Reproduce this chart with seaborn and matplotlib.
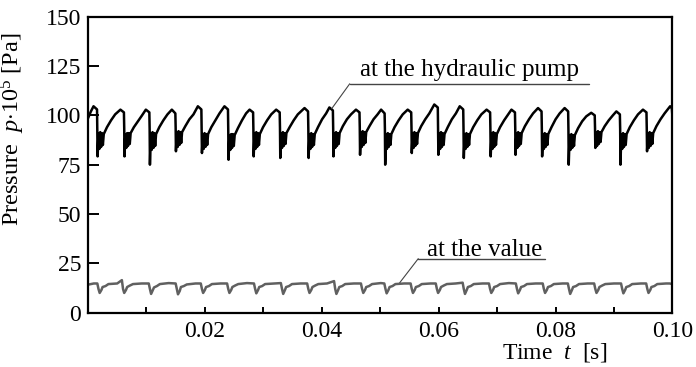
import matplotlib
matplotlib.use("Agg")
import matplotlib.pyplot as plt
import seaborn as sns
import pandas as pd

# ---------------- data ----------------
# pressure at the hydraulic pump: time [ms] and pressure [x1e5 Pa]
pump_t_ms = [
    0.0, 0.5,
    0.95, 1.55, 1.6, 1.65, 1.8, 1.95, 2.1, 2.25, 2.4, 2.55, 2.7, 3.25, 3.95, 4.65,
    5.55, 6.15, 6.2, 6.25, 6.4, 6.55, 6.7, 6.85, 7.0, 7.15, 7.3, 7.85, 8.55, 9.25,
    9.9, 10.5, 10.55, 10.6, 10.75, 10.9, 11.05, 11.2, 11.35, 11.5, 11.65, 12.2, 12.9, 13.6,
    14.35, 14.95, 15.0, 15.05, 15.2, 15.35, 15.5, 15.65, 15.8, 15.95, 16.1, 16.65, 17.35, 18.05,
    18.8, 19.4, 19.45, 19.5, 19.65, 19.8, 19.95, 20.1, 20.25, 20.4, 20.55, 21.1, 21.8, 22.5,
    23.35, 23.95, 24.0, 24.05, 24.2, 24.35, 24.5, 24.65, 24.8, 24.95, 25.1, 25.65, 26.35, 27.05,
    27.65, 28.25, 28.3, 28.35, 28.5, 28.65, 28.8, 28.95, 29.1, 29.25, 29.4, 29.95, 30.65, 31.35,
    32.2, 32.8, 32.85, 32.9, 33.05, 33.2, 33.35, 33.5, 33.65, 33.8, 33.95, 34.5, 35.2, 35.9,
    37.05, 37.65, 37.7, 37.75, 37.9, 38.05, 38.2, 38.35, 38.5, 38.65, 38.8, 39.35, 40.05, 40.75,
    41.3, 41.9, 41.95, 42.0, 42.15, 42.3, 42.45, 42.6, 42.75, 42.9, 43.05, 43.6, 44.3, 45.0,
    45.85, 46.45, 46.5, 46.55, 46.7, 46.85, 47.0, 47.15, 47.3, 47.45, 47.6, 48.15, 48.85, 49.55,
    50.15, 50.75, 50.8, 50.85, 51.0, 51.15, 51.3, 51.45, 51.6, 51.75, 51.9, 52.45, 53.15, 53.85,
    54.7, 55.3, 55.35, 55.4, 55.55, 55.7, 55.85, 56.0, 56.15, 56.3, 56.45, 57.0, 57.7, 58.4,
    59.25, 59.85, 59.9, 59.95, 60.1, 60.25, 60.4, 60.55, 60.7, 60.85, 61.0, 61.55, 62.25, 62.95,
    63.6, 64.2, 64.25, 64.3, 64.45, 64.6, 64.75, 64.9, 65.05, 65.2, 65.35, 65.9, 66.6, 67.3,
    68.2, 68.8, 68.85, 68.9, 69.05, 69.2, 69.35, 69.5, 69.65, 69.8, 69.95, 70.5, 71.2, 71.9,
    72.45, 73.05, 73.1, 73.15, 73.3, 73.45, 73.6, 73.75, 73.9, 74.05, 74.2, 74.75, 75.45, 76.15,
    77.0, 77.6, 77.65, 77.7, 77.85, 78.0, 78.15, 78.3, 78.45, 78.6, 78.75, 79.3, 80.0, 80.7,
    81.55, 82.15, 82.2, 82.25, 82.4, 82.55, 82.7, 82.85, 83.0, 83.15, 83.3, 83.85, 84.55, 85.25,
    86.1, 86.7, 86.75, 86.8, 86.95, 87.1, 87.25, 87.4, 87.55, 87.7, 87.85, 88.4, 89.1, 89.8,
    90.4, 91.0, 91.05, 91.1, 91.25, 91.4, 91.55, 91.7, 91.85, 92.0, 92.15, 92.7, 93.4, 94.1,
    94.95, 95.55, 95.6, 95.65, 95.8, 95.95, 96.1, 96.25, 96.4, 96.55, 96.7, 97.25, 97.95, 98.65,
    99.6, 99.9, 100.0,
]
pump_p = [
    98.5, 102.0,
    104.6, 103.0, 93.0, 79.2, 91.0, 83.0, 91.5, 84.0, 91.0, 85.0, 90.5, 94.0, 97.5, 100.5,
    102.9, 101.5, 93.5, 79.2, 90.5, 83.5, 91.0, 84.5, 91.0, 85.5, 91.0, 94.0, 97.0, 100.0,
    102.9, 101.5, 93.0, 75.0, 91.0, 82.5, 91.5, 83.5, 91.0, 84.5, 90.5, 94.0, 97.5, 100.5,
    102.9, 101.0, 94.0, 81.8, 91.5, 84.0, 92.0, 85.0, 91.5, 86.0, 91.5, 94.5, 98.0, 100.5,
    104.6, 103.0, 93.0, 80.9, 90.5, 83.0, 91.0, 84.0, 90.5, 85.0, 90.5, 94.0, 97.5, 101.0,
    104.6, 103.0, 92.5, 77.5, 90.0, 82.5, 90.5, 83.5, 90.5, 84.5, 90.0, 93.5, 97.5, 101.0,
    102.9, 101.5, 93.0, 79.2, 91.0, 83.0, 91.5, 84.0, 91.0, 85.0, 90.5, 94.0, 97.5, 100.5,
    102.9, 101.5, 93.5, 78.4, 91.0, 83.5, 91.5, 84.5, 91.0, 85.5, 91.0, 94.0, 97.5, 100.5,
    103.7, 102.0, 93.0, 78.4, 90.5, 83.0, 91.0, 84.0, 90.5, 85.0, 90.5, 94.0, 98.0, 101.0,
    104.0, 102.5, 93.5, 79.2, 91.0, 83.5, 91.5, 84.5, 91.0, 85.5, 91.0, 94.5, 98.0, 100.5,
    102.9, 101.5, 94.0, 80.0, 91.5, 84.0, 92.0, 85.0, 91.5, 86.0, 91.5, 94.5, 98.0, 100.5,
    102.9, 101.0, 93.0, 75.0, 90.5, 83.0, 91.0, 84.0, 90.5, 85.0, 90.5, 94.0, 97.5, 100.5,
    102.9, 101.5, 93.5, 80.9, 91.0, 83.5, 91.5, 84.5, 91.0, 85.5, 91.0, 94.5, 98.0, 101.0,
    105.5, 104.0, 93.5, 80.0, 91.0, 83.0, 91.5, 84.0, 91.0, 85.0, 90.5, 94.0, 98.0, 101.0,
    104.6, 103.0, 93.0, 78.4, 90.5, 83.0, 91.0, 84.0, 90.5, 85.0, 90.5, 94.0, 97.5, 100.5,
    102.9, 101.5, 93.0, 79.2, 91.0, 83.0, 91.5, 84.0, 91.0, 85.0, 90.5, 94.0, 97.5, 100.5,
    102.9, 101.5, 93.5, 80.0, 91.0, 83.5, 91.5, 84.5, 91.0, 85.5, 91.0, 94.5, 98.0, 101.0,
    103.7, 102.0, 93.0, 79.2, 90.5, 83.0, 91.0, 84.0, 90.5, 85.0, 90.5, 94.0, 98.0, 101.0,
    103.7, 102.0, 92.5, 75.0, 90.0, 82.5, 90.5, 83.5, 90.0, 84.5, 90.0, 93.5, 97.0, 99.5,
    101.3, 100.0, 93.5, 83.5, 91.5, 84.5, 92.0, 85.5, 91.5, 86.5, 91.5, 94.5, 97.5, 100.0,
    102.0, 100.5, 93.0, 75.0, 90.5, 83.0, 91.0, 84.0, 90.5, 85.0, 90.5, 94.0, 97.5, 100.5,
    102.9, 101.5, 93.5, 81.8, 91.0, 83.5, 91.5, 84.5, 91.0, 85.5, 91.0, 94.5, 98.0, 101.0,
    104.6, 103.5, 99.0,
]

# pressure at the valve: time [ms] and pressure [x1e5 Pa]
valve_t_ms = [
    0.0, 1.0,
    1.6, 1.8, 2.0, 2.3, 2.5, 3.0, 3.5, 5.0,
    5.8, 6.0, 6.2, 6.5, 6.7, 7.2, 7.7, 9.2,
    10.4, 10.6, 10.8, 11.1, 11.3, 11.8, 12.3, 13.8,
    15.0, 15.2, 15.4, 15.7, 15.9, 16.4, 16.9, 18.4,
    19.3, 19.5, 19.7, 20.0, 20.2, 20.7, 21.2, 22.7,
    23.8, 24.0, 24.2, 24.5, 24.7, 25.2, 25.7, 27.2,
    28.4, 28.6, 28.8, 29.1, 29.3, 29.8, 30.3, 31.8,
    33.0, 33.2, 33.4, 33.7, 33.9, 34.4, 34.9, 36.4,
    37.5, 37.7, 37.9, 38.2, 38.4, 38.9, 39.4, 40.9,
    42.1, 42.3, 42.5, 42.8, 43.0, 43.5, 44.0, 45.5,
    46.7, 46.9, 47.1, 47.4, 47.6, 48.1, 48.6, 50.1,
    50.7, 50.9, 51.1, 51.4, 51.6, 52.1, 52.6, 54.1,
    55.2, 55.4, 55.6, 55.9, 56.1, 56.6, 57.1, 58.6,
    59.5, 59.7, 59.9, 60.2, 60.4, 60.9, 61.4, 62.9,
    64.1, 64.3, 64.5, 64.8, 65.0, 65.5, 66.0, 67.5,
    68.6, 68.8, 69.0, 69.3, 69.5, 70.0, 70.5, 72.0,
    73.2, 73.4, 73.6, 73.9, 74.1, 74.6, 75.1, 76.6,
    77.8, 78.0, 78.2, 78.5, 78.7, 79.2, 79.7, 81.2,
    82.1, 82.3, 82.5, 82.8, 83.0, 83.5, 84.0, 85.5,
    86.6, 86.8, 87.0, 87.3, 87.5, 88.0, 88.5, 90.0,
    91.2, 91.4, 91.6, 91.9, 92.1, 92.6, 93.1, 94.6,
    95.5, 95.7, 95.9, 96.2, 96.4, 96.9, 97.4, 98.9,
    99.5, 100.0,
]
valve_p = [
    14.2, 14.8,
    14.8, 12.0, 10.0, 11.5, 13.0, 13.5, 14.5, 14.8,
    16.5, 12.0, 10.0, 11.5, 13.0, 13.8, 14.5, 14.8,
    14.8, 12.0, 9.5, 11.5, 12.8, 13.5, 14.5, 15.0,
    14.8, 12.0, 9.3, 11.0, 13.0, 13.5, 14.3, 14.8,
    14.8, 12.0, 10.0, 11.5, 13.0, 13.5, 14.5, 14.8,
    14.8, 12.0, 10.0, 11.5, 13.0, 13.8, 14.5, 15.0,
    14.8, 12.0, 9.8, 11.5, 13.0, 13.5, 14.5, 14.8,
    15.0, 12.0, 9.5, 11.5, 13.0, 13.5, 14.5, 14.8,
    14.8, 12.0, 10.0, 11.5, 13.0, 13.8, 14.5, 14.8,
    16.0, 12.0, 9.5, 11.5, 13.0, 13.5, 14.5, 14.8,
    14.8, 12.0, 10.0, 11.5, 13.0, 13.5, 14.5, 15.0,
    14.8, 12.0, 9.8, 11.5, 13.0, 13.5, 14.5, 14.8,
    14.8, 12.0, 10.0, 11.5, 13.0, 13.5, 14.5, 14.8,
    14.8, 12.0, 10.0, 11.5, 13.0, 13.8, 14.5, 14.8,
    15.2, 12.0, 9.5, 11.5, 13.0, 13.5, 14.5, 14.8,
    14.8, 12.0, 10.0, 11.5, 13.0, 13.5, 14.5, 15.0,
    14.8, 12.0, 9.8, 11.5, 13.0, 13.5, 14.5, 14.8,
    14.8, 12.0, 10.0, 11.5, 13.0, 13.5, 14.5, 14.8,
    14.8, 12.0, 9.5, 11.5, 13.0, 13.5, 14.5, 14.8,
    14.8, 12.0, 10.0, 11.5, 13.0, 13.8, 14.5, 14.8,
    14.8, 12.0, 9.8, 11.5, 13.0, 13.5, 14.5, 14.8,
    14.8, 12.0, 10.0, 11.5, 13.0, 13.5, 14.5, 14.8,
    14.8, 14.5,
]

x_ticks = [0.02, 0.04, 0.06, 0.08, 0.10]
x_tick_labels = ["0.02", "0.04", "0.06", "0.08", "0.10"]
x_minor_ticks = [0.01, 0.03, 0.05, 0.07, 0.09]
y_ticks = [0, 25, 50, 75, 100, 125, 150]
pump_label = "at the hydraulic pump"
valve_label = "at the value"

# ---------------- figure ----------------
sns.set_theme(style="white")
plt.rcParams["font.family"] = ["Liberation Serif", "DejaVu Serif"]
plt.rcParams["mathtext.fontset"] = "custom"
plt.rcParams["mathtext.rm"] = "Liberation Serif"
plt.rcParams["mathtext.it"] = "Liberation Serif:italic"

pump_df = pd.DataFrame({"t": [v / 1000.0 for v in pump_t_ms], "p": pump_p})
valve_df = pd.DataFrame({"t": [v / 1000.0 for v in valve_t_ms], "p": valve_p})

fig = plt.figure(figsize=(6.96, 3.67), dpi=100)
ax = fig.add_axes([0.1264, 0.148, 0.8398, 0.8065])

sns.lineplot(data=pump_df, x="t", y="p", ax=ax, color="black", lw=1.8,
             estimator=None, sort=False)
sns.lineplot(data=valve_df, x="t", y="p", ax=ax, color="#606060", lw=1.8,
             estimator=None, sort=False)

ax.set_xlim(0, 0.10)
ax.set_ylim(0, 150)
ax.set_xticks(x_ticks)
ax.set_xticklabels(x_tick_labels)
ax.set_xticks(x_minor_ticks, minor=True)
ax.set_yticks(y_ticks)

for s in ax.spines.values():
    s.set_visible(True)
    s.set_color("black")
    s.set_linewidth(1.6)

ax.tick_params(axis="x", which="both", direction="in", length=4, width=1.4,
               colors="black", labelsize=17, pad=6, bottom=True)
ax.tick_params(axis="y", which="major", direction="in", length=8, width=1.4,
               colors="black", labelsize=17, pad=5, left=True)

ax.set_xlabel(r"Time  $t$  [s]", fontsize=17, color="black", ha="right")
ax.xaxis.set_label_coords(0.888, -0.095)
ax.set_ylabel(r"Pressure  $p$$\cdot$10$^5$ [Pa]", fontsize=17.5, color="black")
ax.yaxis.set_label_coords(-0.104, 0.62)

# annotation: pump
ax.plot([0.04478, 0.08570], [116.0, 116.0], color="#444444", lw=1.0)
ax.plot([0.04478, 0.04170], [116.0, 103.4], color="#444444", lw=0.8)
ax.text(0.06533, 120.0, pump_label, ha="center", va="baseline", fontsize=18,
        color="black")

# annotation: valve
ax.plot([0.05651, 0.07817], [27.4, 27.4], color="#444444", lw=1.0)
ax.plot([0.05651, 0.05334], [27.4, 15.2], color="#444444", lw=0.8)
ax.text(0.06789, 28.8, valve_label, ha="center", va="baseline", fontsize=18,
        color="black")

fig.savefig("out.png", dpi=100)
